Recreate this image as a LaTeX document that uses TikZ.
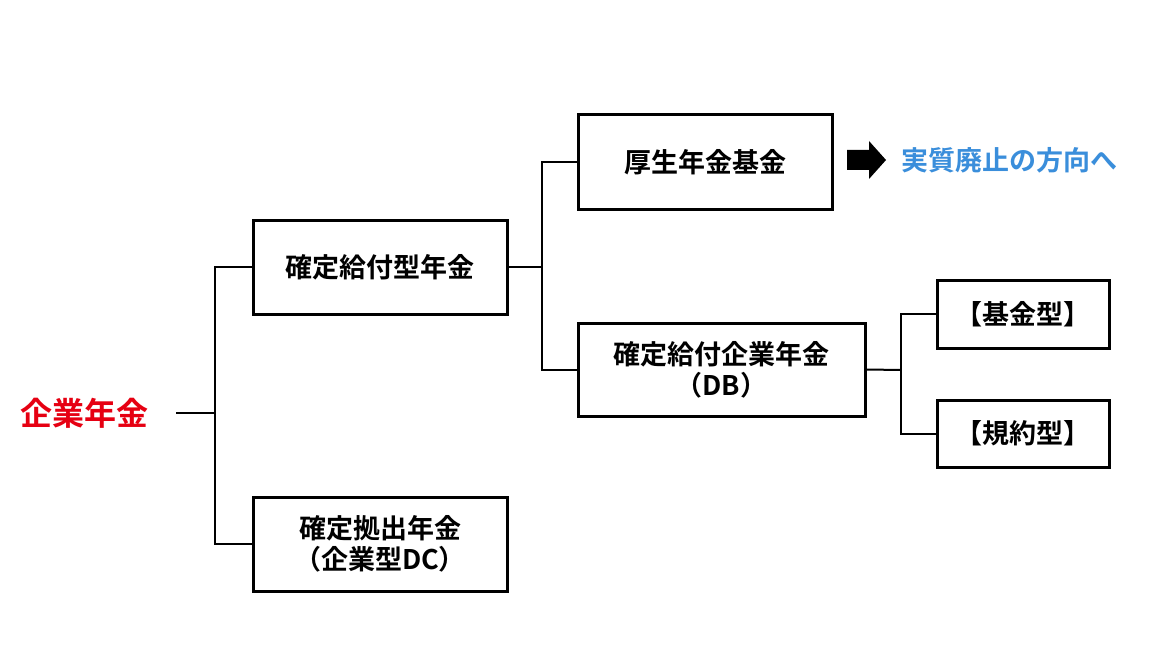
\documentclass[tikz,border=0pt]{standalone}
\usepackage{fontspec}
\newfontfamily\jp{Noto Sans CJK JP Bold}
\definecolor{jred}{HTML}{E60012}
\definecolor{jblue}{HTML}{3A8EDB}
\begin{document}
\begin{tikzpicture}[x=1pt,y=-1pt,
  box/.style={draw=black,line width=3pt,minimum width=#1,font=\jp\fontsize{27}{31}\selectfont,align=center,inner sep=0pt},
  conn/.style={draw=black,line width=2pt}]
\useasboundingbox (0,0) rectangle (1150,647);
\fill[white] (0,0) rectangle (1150,647);
\node[box=254pt,minimum height=94pt] (kousei) at (705,162) {厚生年金基金};
\node[box=254pt,minimum height=94pt] (db0) at (380,267) {確定給付型年金};
\node[box=287pt,minimum height=93pt] (db) at (721.5,369.5) {確定給付企業年金\\（DB）};
\node[box=172pt,minimum height=68pt] (kikin) at (1023,314) {【基金型】};
\node[box=172pt,minimum height=67pt] (kiyaku) at (1023,433.5) {【規約型】};
\node[box=254pt,minimum height=94pt] (dc) at (380,544) {確定拠出年金\\（企業型DC）};
\node[font=\jp\fontsize{32}{36}\selectfont,text=jred,anchor=east,inner sep=0pt] (kigyou) at (149,413) {企業年金};
\node[font=\jp\fontsize{27}{31}\selectfont,text=jblue,anchor=west,inner sep=0pt] (haishi) at (901,160) {実質廃止の方向へ};
\coordinate (k0) at (176,413);
\coordinate (j1) at (215,413);
\coordinate (j2) at (542,267);
\coordinate (j3) at (901,370);
\draw[conn] (k0) -- (j1);
\draw[conn] (db0.west) -| (j1) |- (dc.west);
\draw[conn] (db0.east) -- (j2);
\draw[conn] (kousei.west) -| (j2) |- (db.west);
\draw[conn] (db.east) -- (j3);
\draw[conn] (kikin.west) -| (j3) |- (kiyaku.west);
\fill[black] (847,150) -- (869,150) -- (869,141) -- (886,160) -- (869,179) -- (869,170) -- (847,170) -- cycle;
\end{tikzpicture}
\end{document}
